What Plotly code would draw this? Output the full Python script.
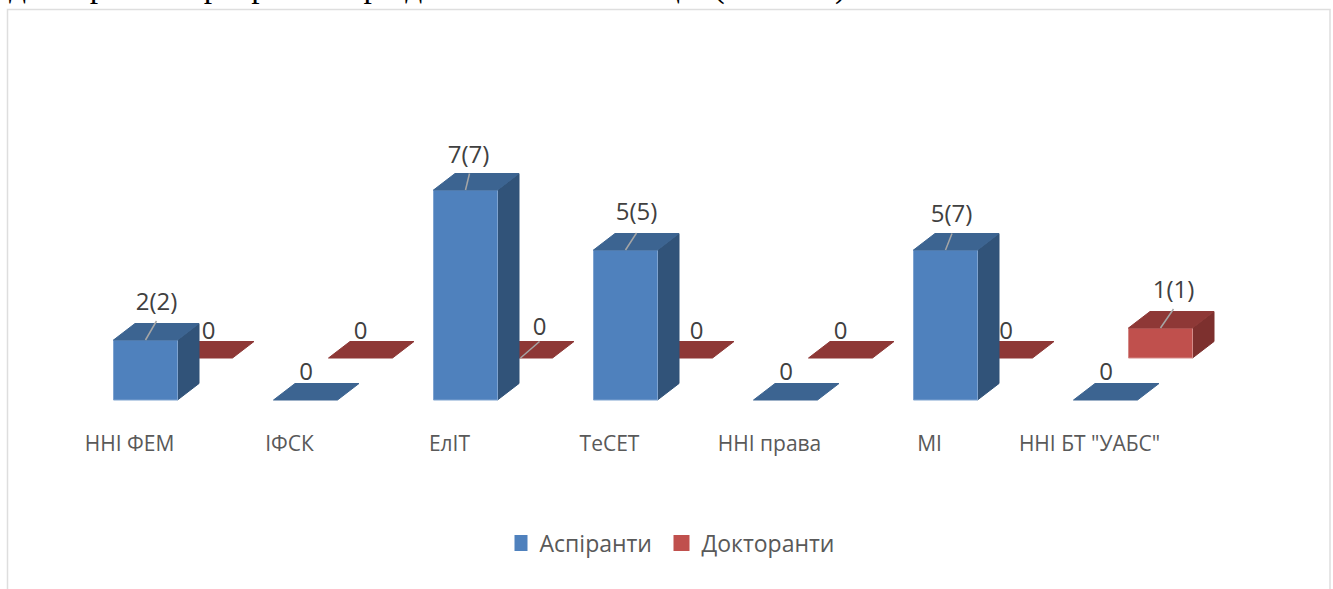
import plotly.graph_objects as go

categories = ["ННІ ФЕМ", "ІФСК", "ЕлІТ", "ТеСЕТ", "ННІ права", "МІ", 'ННІ БТ "УАБС"']
aspirants = [2, 0, 7, 5, 0, 5, 0]
doctorants = [0, 0, 0, 0, 0, 0, 1]
aspirant_labels = ["2(2)", "0", "7(7)", "5(5)", "0", "5(7)", "0"]
doctorant_labels = ["0", "0", "0", "0", "0", "0", "1(1)"]

# pixels per axis unit
PX_X = 160
PX_Y = 30
BAR_W = 64 / PX_X
DEPTH_X = 21.5 / PX_X
DEPTH_Y = 16.5 / PX_Y
# the second series sits further back in the 3d scene
RED_SHIFT_X = 55 / PX_X
RED_SHIFT_Y = 42 / PX_Y

# label offsets from the bar's front top left corner, in pixels
aspirant_offsets = [(43, 36), (32.5, 26), (35, 33), (43, 36), (32.5, 26), (38, 34), (32.5, 26)]
doctorant_offsets = [(40, 25), (32, 25), (51, 29), (48, 25), (32, 25), (37.5, 25), (45, 36)]
# which labels get a leader line, with its top end relative to the same corner
aspirant_leaders = {0: (43, 19), 2: (36, 16.5), 3: (43, 17), 5: (38.5, 16.5)}
doctorant_leaders = {2: (51, 16.5), 6: (45, 19)}

fig = go.Figure()


def add_face(xs, ys, color, edge):
    fig.add_trace(
        go.Scatter(
            x=xs + xs[:1],
            y=ys + ys[:1],
            mode="lines",
            fill="toself",
            fillcolor=color,
            line=dict(color=edge, width=1),
            hoverinfo="skip",
            showlegend=False
        )
    )


def add_series(values, labels, offsets, leaders, shift_x, shift_y, colors):
    front, top, side, edge = colors
    label_x = []
    label_y = []

    for i, value in enumerate(values):
        x0 = i - BAR_W / 2 + shift_x
        x1 = x0 + BAR_W
        y0 = shift_y
        y1 = shift_y + value

        if value > 0:
            add_face([x1, x1 + DEPTH_X, x1 + DEPTH_X, x1],
                     [y0, y0 + DEPTH_Y, y1 + DEPTH_Y, y1], side, side)
            add_face([x0, x1, x1, x0], [y0, y0, y1, y1], front, edge)

        add_face([x0, x1, x1 + DEPTH_X, x0 + DEPTH_X],
                 [y1, y1, y1 + DEPTH_Y, y1 + DEPTH_Y], top, top)

        label_x.append(x0 + offsets[i][0] / PX_X)
        label_y.append(y1 + offsets[i][1] / PX_Y)

        if i in leaders:
            fig.add_trace(
                go.Scatter(
                    x=[x0 + 32 / PX_X, x0 + leaders[i][0] / PX_X],
                    y=[y1, y1 + leaders[i][1] / PX_Y],
                    mode="lines",
                    line=dict(color="#a6a6a6", width=1.5),
                    hoverinfo="skip",
                    showlegend=False
                )
            )

    return label_x, label_y, labels


# red goes first so the blue bars cover it
red_text = add_series(doctorants, doctorant_labels, doctorant_offsets, doctorant_leaders,
                      RED_SHIFT_X, RED_SHIFT_Y, ("#c0504d", "#8e3836", "#7d302e", "#d48a88"))
blue_text = add_series(aspirants, aspirant_labels, aspirant_offsets, aspirant_leaders,
                       0, 0, ("#4f81bd", "#3c6491", "#315379", "#7ea3d0"))

for label_x, label_y, labels in (red_text, blue_text):
    fig.add_trace(
        go.Scatter(
            x=label_x,
            y=label_y,
            text=labels,
            mode="text",
            textposition="middle center",
            textfont=dict(size=24, color="#404040"),
            hoverinfo="skip",
            showlegend=False
        )
    )

# legend only entries
for name, color in (("Аспіранти", "#4f81bd"), ("Докторанти", "#c0504d")):
    fig.add_trace(
        go.Scatter(
            x=[None],
            y=[None],
            mode="markers",
            name=name,
            marker=dict(symbol="square", size=17, color=color)
        )
    )

fig.update_layout(
    width=1333,
    height=589,
    autosize=False,
    margin=dict(l=0, r=0, t=0, b=164),
    paper_bgcolor="white",
    plot_bgcolor="white",
    font=dict(family="Open Sans", color="#595959", size=21),
    xaxis=dict(
        range=[-145.5 / PX_X, (1333 - 145.5) / PX_X],
        tickmode="array",
        tickvals=[i - 0.1 for i in range(len(categories))],
        ticktext=categories,
        ticklabelstandoff=4,
        showgrid=False,
        zeroline=False,
        showline=False,
        ticks=""
    ),
    yaxis=dict(
        range=[-25 / PX_Y, 400 / PX_Y],
        visible=False
    ),
    legend=dict(
        orientation="h",
        x=0.5075,
        xanchor="center",
        y=-0.278,
        yanchor="middle",
        itemwidth=30,
        indentation=-15,
        entrywidth=132,
        entrywidthmode="pixels",
        font=dict(size=23)
    ),
    shapes=[
        dict(
            type="rect",
            xref="paper",
            yref="paper",
            x0=7.5 / 1333,
            x1=1330 / 1333,
            y0=-0.5,
            y1=(425 - 9.5) / 425,
            line=dict(color="#dedede", width=1.5),
            layer="below"
        )
    ],
    annotations=[
        dict(
            text="докторської програми періодом більше 3 місяців (Рис. 3.2).",
            xref="paper",
            yref="paper",
            x=7 / 1333,
            y=(425 - 7) / 425,
            xanchor="left",
            yanchor="bottom",
            showarrow=False,
            font=dict(family="Liberation Serif", size=33.6, color="black")
        )
    ]
)

# plotly's page keeps the browser's default body margin
fig.write_html(
    "out.html",
    config={"displayModeBar": False},
    post_script="document.body.style.margin = '0';"
)
